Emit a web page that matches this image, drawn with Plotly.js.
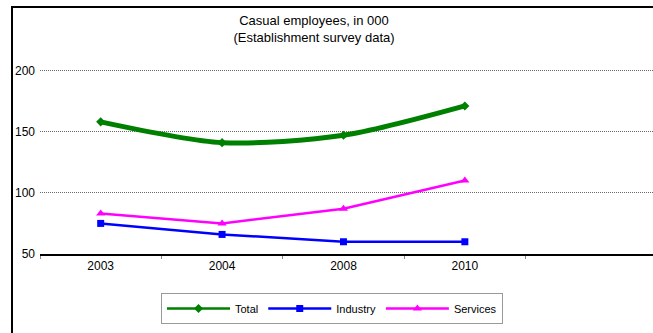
<!DOCTYPE html>
<html>
<head>
<meta charset="utf-8">
<script src="https://cdn.plot.ly/plotly-3.0.1.min.js"></script>
<style>
html,body{margin:0;padding:0;background:#fff;overflow:hidden;width:653px;height:333px;}
#wrap{position:relative;width:653px;height:333px;overflow:hidden;}
#chart{position:absolute;left:0;top:0;width:660px;height:333px;}
#frame{position:absolute;left:11px;top:6px;width:700px;height:400px;border-left:2px solid #000;border-top:2px solid #000;pointer-events:none;}
</style>
</head>
<body>
<div id="wrap"><div id="chart"></div><div id="frame"></div></div>
<script>
const years = ['2003', '2004', '2008', '2010'];
const total = [158, 141, 147, 171];
const industry = [75, 66, 60, 60];
const services = [83, 75, 87, 110];
const yTicks = [50, 100, 150, 200];

const traces = [
  // thick smoothed Total line (no legend entry)
  {x: years, y: total, name: 'Total', type: 'scatter', mode: 'lines', showlegend: false,
   line: {color: '#008000', width: 5, shape: 'spline', smoothing: 0.8}},
  // thin Total line with markers, used for the legend entry
  {x: years, y: total, name: 'Total', type: 'scatter', mode: 'lines+markers',
   line: {color: '#008000', width: 2.5, shape: 'spline', smoothing: 0.8},
   marker: {symbol: 'diamond', size: 7, color: '#008000'}},
  {x: years, y: industry, name: 'Industry', type: 'scatter', mode: 'lines+markers',
   line: {color: '#0000FF', width: 2.5},
   marker: {symbol: 'square', size: 7, color: '#0000FF'}},
  {x: years, y: services, name: 'Services', type: 'scatter', mode: 'lines+markers',
   line: {color: '#FF00FF', width: 2.5},
   marker: {symbol: 'triangle-up', size: 8, color: '#FF00FF'}}
];

const layout = {
  width: 660, height: 333,
  margin: {l: 40, r: 7, t: 67.5, b: 78.5},
  paper_bgcolor: '#fff', plot_bgcolor: '#fff',
  font: {family: '"Liberation Sans", Arial, sans-serif', color: '#000', size: 12},
  title: {text: 'Casual employees, in 000<br>(Establishment survey data)',
          x: 314/660, xanchor: 'center', xref: 'container', y: 1 - 25/333, yanchor: 'top', yref: 'container',
          font: {size: 13, color: '#000'}},
  xaxis: {type: 'category', categoryarray: years, range: [-0.5, 4.55],
          showline: true, linecolor: '#000', linewidth: 1.5,
          tickson: 'boundaries', ticks: 'outside', ticklen: 3, tickcolor: '#888', tickwidth: 1,
          showgrid: false, zeroline: false, fixedrange: true,
          tickfont: {size: 12}},
  yaxis: {range: [50, 202], tickvals: yTicks, ticktext: yTicks.map(String),
          showgrid: true, gridcolor: '#666', griddash: '1px,1px', gridwidth: 1,
          showline: false, zeroline: false, ticks: '', ticklabelstandoff: 4,
          tickfont: {size: 12}},
  showlegend: true,
  legend: {orientation: 'h', xref: 'container', yref: 'container',
           x: 332/660, xanchor: 'center', y: 1 - 293/333, yanchor: 'top',
           bordercolor: '#999', borderwidth: 1, bgcolor: '#fff',
           font: {size: 11}, itemwidth: 63}
};

Plotly.newPlot('chart', traces, layout, {displayModeBar: false, staticPlot: true});
</script>
</body>
</html>
